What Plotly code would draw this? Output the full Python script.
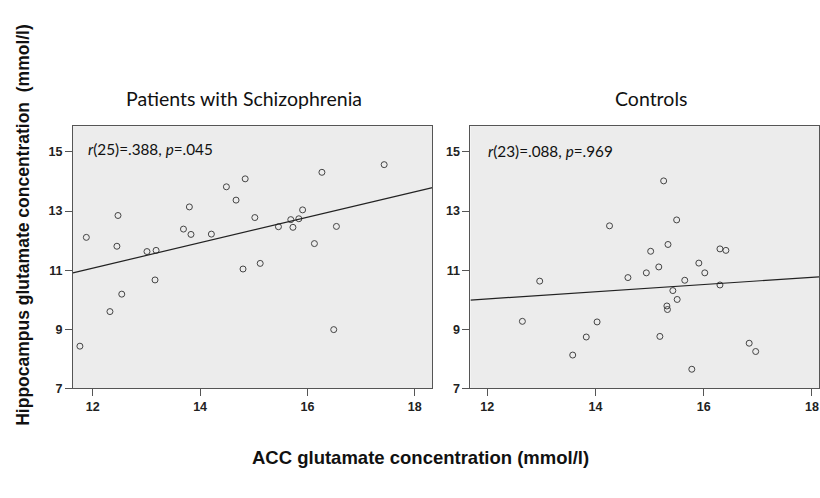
import plotly.graph_objects as go

# ---- data ----
scz_acc = [11.76, 11.88, 12.47, 12.45, 12.54, 12.32, 13.01, 13.18, 13.16, 13.69,
           13.80, 13.83, 14.21, 14.49, 14.67, 14.84, 14.80, 15.02, 15.12, 15.46,
           15.69, 15.73, 15.84, 15.91, 16.13, 16.27, 16.54, 16.49, 17.43]
scz_hip = [8.43, 12.11, 12.85, 11.81, 10.19, 9.60, 11.63, 11.67, 10.67, 12.39,
           13.14, 12.21, 12.22, 13.82, 13.37, 14.09, 11.04, 12.78, 11.23, 12.47,
           12.71, 12.45, 12.74, 13.04, 11.90, 14.31, 12.48, 8.99, 14.57]

ctl_acc = [12.65, 12.97, 13.58, 13.83, 14.03, 14.26, 14.60, 14.94, 15.02, 15.17,
           15.19, 15.26, 15.34, 15.32, 15.33, 15.43, 15.50, 15.51, 15.65, 15.78,
           15.91, 16.02, 16.30, 16.41, 16.30, 16.84, 16.96]
ctl_hip = [9.27, 10.63, 8.13, 8.74, 9.25, 12.50, 10.75, 10.91, 11.64, 11.11,
           8.76, 14.02, 11.87, 9.79, 9.67, 10.31, 12.70, 10.01, 10.66, 7.65,
           11.24, 10.91, 11.72, 11.67, 10.50, 8.53, 8.25]

scz_fit = {"intercept": 5.91, "slope": 0.43}
ctl_fit = {"intercept": 8.564, "slope": 0.122}

panel_titles = ["Patients with Schizophrenia", "Controls"]
stats_text = ["<i>r</i>(25)=.388, <i>p</i>=.045", "<i>r</i>(23)=.088, <i>p</i>=.969"]
x_ticks = [12, 14, 16, 18]
y_ticks = [7, 9, 11, 13, 15]
x_title = "ACC glutamate concentration (mmol/l)"
y_title = "Hippocampus glutamate concentration  (mmol/l)"

# ---- layout constants ----
W, H = 820, 498
x_range_l = [11.63, 18.33]
x_range_r = [11.69, 18.13]
y_range = [7, 15.87]
dom_l = [73 / W, 433 / W]
dom_r = [471 / W, 1.0]
dom_y = [1 - 394 / H, 1 - 128 / H]

bg = "#ececec"

fig = go.Figure()

def add_panel(xs, ys, fit, xr, xa, ya):
    fig.add_trace(go.Scatter(
        x=xs, y=ys, mode="markers", xaxis=xa, yaxis=ya, showlegend=False,
        marker=dict(symbol="circle-open", size=6, color="#444444", line=dict(width=1))))
    lx = [xr[0], xr[1]]
    ly = [fit["intercept"] + fit["slope"] * v for v in lx]
    fig.add_trace(go.Scatter(
        x=lx, y=ly, mode="lines", xaxis=xa, yaxis=ya, showlegend=False,
        line=dict(color="#222222", width=1.2)))

add_panel(scz_acc, scz_hip, scz_fit, x_range_l, "x", "y")
add_panel(ctl_acc, ctl_hip, ctl_fit, x_range_r, "x2", "y2")

axis_common = dict(showgrid=False, zeroline=False, showline=True, linecolor="#555555",
                   linewidth=1, mirror=True, ticks="outside", ticklen=7, tickwidth=1,
                   tickcolor="#555555",
                   tickfont=dict(family="Liberation Sans, Arial", size=12.5, color="#222222",
                                 weight="bold"))

fig.update_layout(
    width=W, height=H,
    margin=dict(l=0, r=0, t=0, b=0),
    paper_bgcolor="white", plot_bgcolor=bg,
    xaxis=dict(domain=dom_l, range=x_range_l, tickvals=x_ticks, anchor="y", **axis_common),
    yaxis=dict(domain=dom_y, range=y_range, tickvals=y_ticks, anchor="x", **axis_common),
    xaxis2=dict(domain=dom_r, range=x_range_r, tickvals=x_ticks, anchor="y2", **axis_common),
    yaxis2=dict(domain=dom_y, range=y_range, tickvals=y_ticks, anchor="x2", **axis_common),
)

title_font = dict(family="Lato, Open Sans, sans-serif", size=19.5, color="#111111")
stat_font = dict(family="Lato, Open Sans, sans-serif", size=15.3, color="#111111")

ann = []
ann.append(dict(text=panel_titles[0], x=244 / W, y=1 - 100 / H, xref="paper", yref="paper",
                showarrow=False, xanchor="center", yanchor="middle", font=title_font))
ann.append(dict(text=panel_titles[1], x=652 / W, y=1 - 100 / H, xref="paper", yref="paper",
                showarrow=False, xanchor="center", yanchor="middle", font=title_font))
ann.append(dict(text=stats_text[0], x=86 / W, y=1 - 151 / H, xref="paper", yref="paper",
                showarrow=False, xanchor="left", yanchor="middle", font=stat_font))
ann.append(dict(text=stats_text[1], x=487 / W, y=1 - 153 / H, xref="paper", yref="paper",
                showarrow=False, xanchor="left", yanchor="middle", font=stat_font))
ann.append(dict(text="<b>" + x_title + "</b>", x=421 / W, y=1 - 464 / H, xref="paper",
                yref="paper", showarrow=False, xanchor="center", yanchor="middle",
                font=dict(family="Liberation Sans, Arial", size=18.5, color="#111111")))
ann.append(dict(text="<b>" + y_title + "</b>", x=23 / W, y=1 - 228 / H, xref="paper",
                yref="paper", showarrow=False, xanchor="center", yanchor="middle",
                textangle=-90,
                font=dict(family="Liberation Sans, Arial", size=17.5, color="#111111")))
fig.update_layout(annotations=ann)

fig.write_html("out.html")
